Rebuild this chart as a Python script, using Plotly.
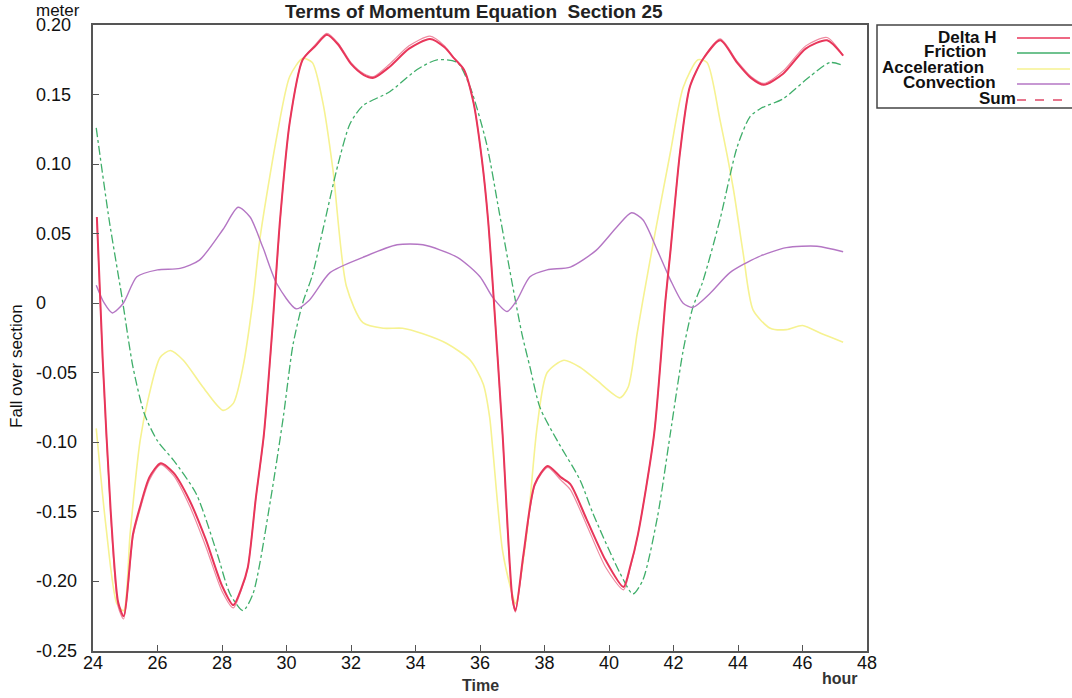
import plotly.graph_objects as go

# ---------------- data ----------------
dh_t = [24.12, 24.3, 24.55, 24.78, 24.95, 25.24, 25.45, 25.75, 26.1, 26.5, 27.0, 27.5, 28.0, 28.35,
        28.6, 28.8, 29.05, 29.3, 29.55, 29.8, 30.1, 30.5, 30.9, 31.25, 31.6, 32.0, 32.4, 32.7, 33.2,
        33.8, 34.45, 34.9, 35.2, 35.5, 35.8, 36.06, 36.25, 36.4, 36.7, 37.0, 37.1, 37.35, 37.7, 38.1,
        38.5, 38.8, 39.3, 39.9, 40.45, 40.65, 40.9, 41.4, 41.75, 41.9, 42.2, 42.5, 42.9, 43.45, 43.97,
        44.4, 44.8, 45.4, 46.1, 46.76, 47.26]
dh_v = [0.062, -0.04, -0.15, -0.215, -0.225, -0.166, -0.147, -0.125, -0.115, -0.122, -0.142, -0.17,
        -0.203, -0.217, -0.205, -0.19, -0.14, -0.094, -0.022, 0.06, 0.13, 0.175, 0.185, 0.193, 0.186,
        0.172, 0.164, 0.162, 0.170, 0.183, 0.190, 0.184, 0.176, 0.168, 0.144, 0.103, 0.06, 0.012,
        -0.094, -0.211, -0.221, -0.18, -0.13, -0.117, -0.125, -0.13, -0.155, -0.185, -0.204, -0.19,
        -0.166, -0.094, 0.002, 0.036, 0.108, 0.155, 0.175, 0.189, 0.173, 0.162, 0.157, 0.165, 0.183,
        0.189, 0.178]

sum_t = dh_t
sum_v = [0.060, -0.042, -0.152, -0.218, -0.227, -0.168, -0.149, -0.127, -0.116, -0.124, -0.146, -0.175,
         -0.207, -0.219, -0.206, -0.19, -0.14, -0.095, -0.023, 0.059, 0.13, 0.175, 0.186, 0.194, 0.187,
         0.173, 0.165, 0.163, 0.172, 0.185, 0.192, 0.185, 0.176, 0.168, 0.144, 0.103, 0.06, 0.012,
         -0.095, -0.213, -0.222, -0.182, -0.131, -0.118, -0.127, -0.134, -0.159, -0.19, -0.206, -0.191,
         -0.166, -0.094, 0.002, 0.036, 0.108, 0.155, 0.175, 0.190, 0.174, 0.163, 0.158, 0.167, 0.185,
         0.191, 0.178]

fr_t = [24.1, 24.5, 24.9, 25.24, 25.6, 26.0, 26.5, 27.2, 27.85, 28.25, 28.65, 28.96, 29.5, 29.9, 30.2,
        30.5, 30.8, 31.13, 31.6, 31.97, 32.37, 33.2, 34.05, 34.67, 35.3, 35.7, 36.2, 36.6, 37.0, 37.3,
        37.55, 37.86, 38.4, 39.1, 39.5, 40.34, 40.74, 41.05, 41.5, 41.9, 42.3, 42.6, 42.9, 43.44, 43.97,
        44.37, 44.7, 45.4, 46.23, 46.85, 47.26]
fr_v = [0.126, 0.06, 0.004, -0.046, -0.08, -0.099, -0.113, -0.137, -0.18, -0.209, -0.221, -0.209,
        -0.142, -0.082, -0.03, 0.0, 0.02, 0.053, 0.10, 0.129, 0.142, 0.152, 0.168, 0.175, 0.173, 0.155,
        0.115, 0.065, 0.014, -0.022, -0.046, -0.075, -0.099, -0.127, -0.151, -0.194, -0.209, -0.199,
        -0.154, -0.094, -0.034, -0.003, 0.015, 0.06, 0.112, 0.134, 0.14, 0.147, 0.163, 0.173, 0.171]

ac_t = [24.1, 24.4, 24.74, 24.95, 25.15, 25.46, 25.7, 26.08, 26.4, 26.8, 27.4, 28.03, 28.35, 28.65,
        28.96, 29.18, 29.7, 30.1, 30.5, 30.8, 31.13, 31.44, 31.86, 32.37, 33.0, 33.6, 34.23, 34.97,
        35.7, 36.1, 36.3, 36.4, 36.7, 37.0, 37.1, 37.45, 37.77, 38.08, 38.6, 39.1, 39.6, 40.34, 40.6,
        40.87, 41.05, 41.4, 41.9, 42.3, 42.76, 43.04, 43.44, 43.85, 44.16, 44.47, 45.0, 45.5, 46.0,
        46.6, 47.26]
ac_v = [-0.09, -0.16, -0.216, -0.221, -0.166, -0.099, -0.07, -0.039, -0.034, -0.041, -0.06, -0.077,
        -0.072, -0.046, 0.002, 0.047, 0.12, 0.163, 0.176, 0.173, 0.144, 0.096, 0.012, -0.014, -0.018,
        -0.018, -0.022, -0.029, -0.041, -0.058, -0.082, -0.106, -0.178, -0.209, -0.216, -0.166,
        -0.089, -0.05, -0.041, -0.046, -0.055, -0.068, -0.06, -0.022, 0.002, 0.047, 0.108, 0.155,
        0.175, 0.173, 0.132, 0.083, 0.036, -0.005, -0.018, -0.019, -0.016, -0.022, -0.028]

cv_t = [24.1, 24.35, 24.6, 24.94, 25.36, 26.0, 26.7, 27.3, 28.03, 28.5, 28.87, 29.27, 29.7, 30.3, 30.7,
        31.35, 32.37, 33.43, 34.23, 35.3, 36.0, 36.4, 36.84, 37.14, 37.55, 38.08, 38.8, 39.6, 40.25,
        40.7, 41.05, 41.5, 41.9, 42.3, 42.6, 43.13, 43.75, 44.6, 45.5, 46.45, 47.26]
cv_v = [0.013, 0.0, -0.007, 0.0, 0.019, 0.024, 0.025, 0.031, 0.053, 0.069, 0.062, 0.04, 0.014, -0.004,
        0.002, 0.022, 0.033, 0.042, 0.042, 0.033, 0.019, 0.004, -0.006, 0.002, 0.019, 0.024, 0.026,
        0.038, 0.055, 0.065, 0.06, 0.038, 0.017, 0.0, -0.003, 0.007, 0.022, 0.033, 0.04, 0.041, 0.037]

x_ticks = [24, 26, 28, 30, 32, 34, 36, 38, 40, 42, 44, 46, 48]
y_ticks = [0.20, 0.15, 0.10, 0.05, 0.0, -0.05, -0.10, -0.15, -0.20, -0.25]
y_tick_text = ["0.20", "0.15", "0.10", "0.05", "0", "-0.05", "-0.10", "-0.15", "-0.20", "-0.25"]

legend_names = ["Delta H", "Friction", "Acceleration", "Convection", "Sum"]

# ---------------- styling ----------------
W, H = 1072, 698
L, R, T, B = 93, 867, 25, 651   # plot frame in screen pixels
FONT = "Liberation Sans, Arial, sans-serif"

def px(xp):
    return (xp - L) / (R - L)

def py(yp):
    return (B - yp) / (B - T)

colors = {
    "Delta H": "#e8365a",
    "Friction": "#3fae6a",
    "Acceleration": "#f6f291",
    "Convection": "#b476c4",
    "Sum": "#ee8aa0",
}

fig = go.Figure()
sm = 0.7
fig.add_trace(go.Scatter(x=ac_t, y=ac_v, mode="lines", name="Acceleration",
                         line=dict(color=colors["Acceleration"], width=1.6, shape="spline", smoothing=sm)))
fig.add_trace(go.Scatter(x=fr_t, y=fr_v, mode="lines", name="Friction",
                         line=dict(color=colors["Friction"], width=1.3, dash="dashdot", shape="spline", smoothing=sm)))
fig.add_trace(go.Scatter(x=cv_t, y=cv_v, mode="lines", name="Convection",
                         line=dict(color=colors["Convection"], width=1.4, shape="spline", smoothing=sm)))
fig.add_trace(go.Scatter(x=sum_t, y=sum_v, mode="lines", name="Sum",
                         line=dict(color=colors["Sum"], width=1.2, shape="spline", smoothing=sm)))
fig.add_trace(go.Scatter(x=dh_t, y=dh_v, mode="lines", name="Delta H",
                         line=dict(color=colors["Delta H"], width=2.0, shape="spline", smoothing=sm)))

annotations = []
# left-aligned y tick labels
for v, txt in zip(y_ticks, y_tick_text):
    annotations.append(dict(x=px(34), xref="paper", y=v, yref="y", text=txt, showarrow=False,
                            xanchor="left", yanchor="middle",
                            font=dict(family=FONT, size=18, color="#111")))
annotations += [
    dict(x=px(34), xref="paper", y=py(10), yref="paper", text="meter", showarrow=False,
         xanchor="left", yanchor="middle", font=dict(family=FONT, size=17, color="#111")),
    dict(x=px(474), xref="paper", y=py(11), yref="paper",
         text="<b>Terms of Momentum Equation&nbsp;&nbsp;Section 25</b>", showarrow=False,
         xanchor="center", yanchor="middle", font=dict(family=FONT, size=19, color="#222")),
    dict(x=px(16), xref="paper", y=py(366), yref="paper", text="Fall over section", showarrow=False,
         textangle=-90, xanchor="center", yanchor="middle", font=dict(family=FONT, size=17, color="#111")),
    dict(x=px(480), xref="paper", y=py(685), yref="paper", text="<b>Time</b>", showarrow=False,
         xanchor="center", yanchor="middle", font=dict(family=FONT, size=16, color="#333")),
    dict(x=px(840), xref="paper", y=py(678), yref="paper", text="<b>hour</b>", showarrow=False,
         xanchor="center", yanchor="middle", font=dict(family=FONT, size=16, color="#333")),
]

# manual legend (text then line sample, like the original)
row_y = [37, 52, 68, 83, 99]
text_right = [999, 988, 986, 998, 1018]
shapes = [dict(type="rect", xref="paper", yref="paper", x0=px(877), x1=px(1090), y0=py(25), y1=py(108),
               line=dict(color="#444", width=1.5), fillcolor="rgba(0,0,0,0)")]
for name, ry, tr in zip(legend_names, row_y, text_right):
    annotations.append(dict(x=px(tr), xref="paper", y=py(ry), yref="paper", text="<b>" + name + "</b>",
                            showarrow=False, xanchor="right", yanchor="middle",
                            font=dict(family=FONT, size=17, color="#111")))
    shapes.append(dict(type="line", xref="paper", yref="paper", x0=px(1017), x1=px(1070),
                       y0=py(ry + 1), y1=py(ry + 1),
                       line=dict(color=colors[name] if name != "Sum" else "#e04a68", width=1.4,
                                 dash="dash" if name == "Sum" else "solid")))

fig.update_layout(
    width=W, height=H,
    margin=dict(l=L, r=W - R, t=T, b=H - B, pad=0),
    paper_bgcolor="white", plot_bgcolor="white",
    showlegend=False,
    annotations=annotations,
    shapes=shapes,
    font=dict(family=FONT, color="#111"),
)
fig.update_xaxes(range=[24, 48], tickvals=x_ticks, ticktext=[str(v) for v in x_ticks],
                 ticks="inside", ticklen=6, tickcolor="#555", showgrid=False, zeroline=False,
                 showline=True, linecolor="#555", linewidth=1.5, mirror=True,
                 ticklabelstandoff=-5,
                 tickfont=dict(family=FONT, size=18, color="#111"))
fig.update_yaxes(range=[-0.25, 0.20], tickvals=y_ticks, showticklabels=False,
                 ticks="inside", ticklen=6, tickcolor="#555", showgrid=False, zeroline=False,
                 showline=True, linecolor="#555", linewidth=1.5, mirror=True)

fig.write_html("out.html", config={"displayModeBar": False},
               post_script="document.body.style.margin='0';document.body.style.overflow='hidden';")
